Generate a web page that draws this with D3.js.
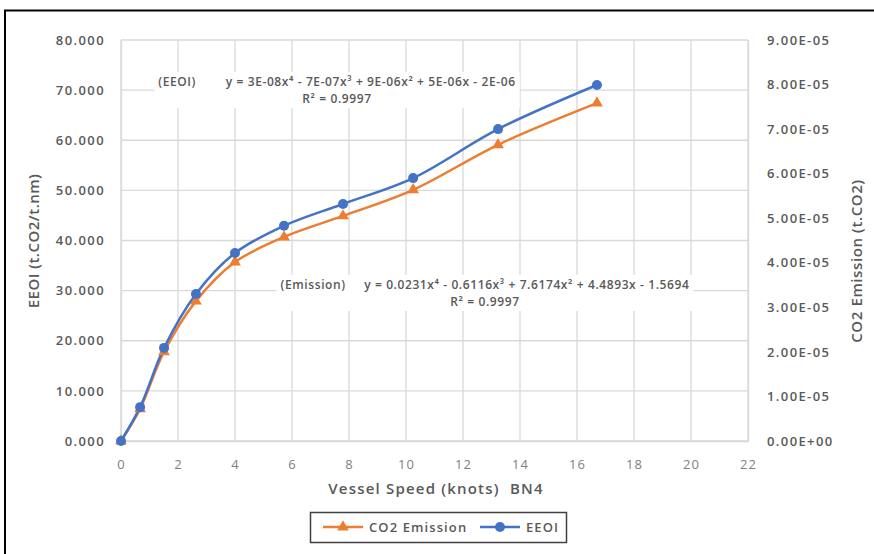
<!DOCTYPE html>
<html>
<head>
<meta charset="utf-8">
<script src="https://cdn.jsdelivr.net/npm/d3@7"></script>
<style>
  body { margin: 0; background: #fff; }
  text { font-family: "Open Sans", sans-serif; }
</style>
</head>
<body>
<script>
// speeds (knots)
const speeds = [0, 0.67, 1.51, 2.63, 4.0, 5.72, 7.79, 10.25, 13.23, 16.7]
// CO2 emission series (left scale)
const emission = [0, 6.4, 17.8, 27.9, 35.7, 40.7, 44.9, 50.1, 59.1, 67.4]
// EEOI series (right scale)
const eeoi = [0, 0.76e-5, 2.09e-5, 3.30e-5, 4.22e-5, 4.83e-5, 5.32e-5, 5.90e-5, 7.00e-5, 7.99e-5]

const xTicks = d3.range(0, 23, 2)
const leftTicks = d3.range(0, 81, 10)
const rightTicks = d3.range(0, 10).map(d => d * 1e-5)

const W = 874, H = 554
const plot = { left: 121, right: 748, top: 40, bottom: 441 }

const svg = d3.select("body").append("svg")
    .attr("width", W)
    .attr("height", H)

const x = d3.scaleLinear().domain([0, 22]).range([plot.left, plot.right])
const yL = d3.scaleLinear().domain([0, 80]).range([plot.bottom, plot.top])
const yR = d3.scaleLinear().domain([0, 9e-5]).range([plot.bottom, plot.top])

// outer frame
svg.append("path")
    .attr("d", "M5," + H + "V10.5H" + W)
    .attr("fill", "none")
    .attr("stroke", "#000")
    .attr("stroke-width", 2)

const grid = "#d9d9d9"

// grid lines
svg.append("g").selectAll("line")
    .data(leftTicks)
    .join("line")
        .attr("x1", plot.left).attr("x2", plot.right)
        .attr("y1", d => yL(d)).attr("y2", d => yL(d))
        .attr("stroke", grid).attr("stroke-width", 1.3)

svg.append("g").selectAll("line")
    .data(xTicks)
    .join("line")
        .attr("x1", d => x(d)).attr("x2", d => x(d))
        .attr("y1", plot.top).attr("y2", plot.bottom)
        .attr("stroke", grid).attr("stroke-width", 1.3)

// axes
const tickStyle = (weight, fill) => g => {
    g.select(".domain").attr("stroke", grid).attr("stroke-width", 1.3)
    g.selectAll(".tick line").remove()
    g.selectAll(".tick text")
        .attr("fill", fill)
        .style("font-size", "13px")
        .style("font-weight", weight)
        .style("letter-spacing", "1.4px")
}

svg.append("g")
    .attr("transform", "translate(0," + plot.bottom + ")")
    .call(d3.axisBottom(x).tickValues(xTicks).tickSize(0).tickPadding(19))
    .call(tickStyle("400", "#7f7f7f"))
    .call(g => g.selectAll(".tick text").style("letter-spacing", "1px"))

svg.append("g")
    .attr("transform", "translate(" + plot.left + ",0)")
    .call(d3.axisLeft(yL).tickValues(leftTicks).tickFormat(d3.format(".3f")).tickSize(0).tickPadding(16))
    .call(tickStyle("600", "#595959"))

const expFmt = d => {
    const s = d.toExponential(2).toUpperCase()
    const parts = s.split("E")
    let e = parseInt(parts[1])
    const sign = e < 0 ? "-" : "+"
    e = Math.abs(e)
    return parts[0] + "E" + sign + (e < 10 ? "0" + e : e)
}

svg.append("g")
    .attr("transform", "translate(" + plot.right + ",0)")
    .call(d3.axisRight(yR).tickValues(rightTicks).tickFormat(expFmt).tickSize(0).tickPadding(19))
    .call(tickStyle("600", "#595959"))

// axis titles
svg.append("text")
    .attr("x", 436).attr("y", 494)
    .attr("text-anchor", "middle")
    .attr("fill", "#595959")
    .style("font-size", "15px").style("font-weight", "600").style("letter-spacing", "1.2px")
    .style("white-space", "pre")
    .text("Vessel Speed (knots)  BN4")

svg.append("text")
    .attr("transform", "translate(39,241) rotate(-90)")
    .attr("text-anchor", "middle")
    .attr("fill", "#595959")
    .style("font-size", "15px").style("font-weight", "600").style("letter-spacing", "0.5px")
    .text("EEOI (t.CO2/t.nm)")

svg.append("text")
    .attr("transform", "translate(862,261) rotate(-90)")
    .attr("text-anchor", "middle")
    .attr("fill", "#595959")
    .style("font-size", "15px").style("font-weight", "600").style("letter-spacing", "0.6px")
    .text("CO2 Emission (t.CO2)")

// trendline equations
function eqLabel(cx, y, lines) {
    const g = svg.append("g")
    lines.forEach((s, i) => {
        g.append("text")
            .attr("x", cx).attr("y", y + i * 17)
            .attr("text-anchor", "middle").attr("fill", "#595959")
            .style("font-size", "12px").style("font-weight", "600")
            .style("letter-spacing", "0.6px")
            .style("white-space", "pre")
            .text(s)
    })
    const b = g.node().getBBox()
    g.insert("rect", "text")
        .attr("x", b.x - 4).attr("y", b.y - 1)
        .attr("width", b.width + 8).attr("height", b.height + 2)
        .attr("fill", "#fff")
}

const colors = { emission: "#ed7d31", eeoi: "#4472c4" }

const line = d3.line().curve(d3.curveCatmullRom.alpha(0.5))

const ptsE = speeds.map((s, i) => [x(s), yL(emission[i])])
const ptsB = speeds.map((s, i) => [x(s), yR(eeoi[i])])

eqLabel(337, 86, ["(EEOI)        y = 3E-08x\u2074 - 7E-07x\u00b3 + 9E-06x\u00b2 + 5E-06x - 2E-06", "R\u00b2 = 0.9997"])
eqLabel(485, 289, ["(Emission)     y = 0.0231x\u2074 - 0.6116x\u00b3 + 7.6174x\u00b2 + 4.4893x - 1.5694", "R\u00b2 = 0.9997"])

svg.append("path")
    .attr("d", line(ptsE))
    .attr("fill", "none").attr("stroke", colors.emission).attr("stroke-width", 2.5)

svg.append("path")
    .attr("d", line(ptsB))
    .attr("fill", "none").attr("stroke", colors.eeoi).attr("stroke-width", 2.5)

const tri = d3.symbol().type(d3.symbolTriangle).size(60)

svg.append("g").selectAll("path")
    .data(ptsE)
    .join("path")
        .attr("d", tri)
        .attr("transform", d => "translate(" + d[0] + "," + d[1] + ")")
        .attr("fill", colors.emission)

svg.append("g").selectAll("circle")
    .data(ptsB)
    .join("circle")
        .attr("cx", d => d[0]).attr("cy", d => d[1])
        .attr("r", 5)
        .attr("fill", colors.eeoi)

// legend
const lg = svg.append("g")
lg.append("rect")
    .attr("x", 310.5).attr("y", 512.5)
    .attr("width", 256).attr("height", 30)
    .attr("fill", "#fff").attr("stroke", "#404040").attr("stroke-width", 1.5)

const legendItems = [
    { name: "CO2 Emission", color: colors.emission, x0: 323, mark: "tri" },
    { name: "EEOI", color: colors.eeoi, x0: 480, mark: "circle" }
]
legendItems.forEach(it => {
    lg.append("line")
        .attr("x1", it.x0).attr("x2", it.x0 + 40)
        .attr("y1", 527).attr("y2", 527)
        .attr("stroke", it.color).attr("stroke-width", 2.5)
    if (it.mark == "tri") {
        lg.append("path").attr("d", tri)
            .attr("transform", "translate(" + (it.x0 + 20) + ",527)")
            .attr("fill", it.color)
    } else {
        lg.append("circle").attr("cx", it.x0 + 20).attr("cy", 527).attr("r", 5)
            .attr("fill", it.color)
    }
    lg.append("text")
        .attr("x", it.x0 + 46).attr("y", 532)
        .attr("fill", "#595959")
        .style("font-size", "13px").style("font-weight", "600").style("letter-spacing", "1.1px")
        .text(it.name)
})
</script>
</body>
</html>
